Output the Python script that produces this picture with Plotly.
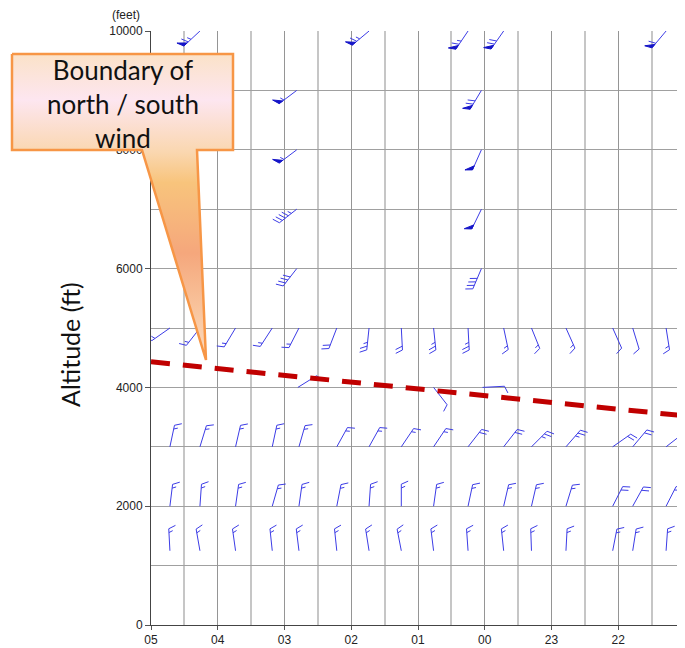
import math
import plotly.graph_objects as go

# ---------------- data ----------------
hour_labels = ["05", "04", "03", "02", "01", "00", "23", "22", "21"]

# wind profiler observation times (time runs right-to-left: 05 -> 21)
profiler_times = ["04:43", "04:16", "03:44", "03:11", "02:47", "02:13", "01:44", "01:15",
                  "00:46", "00:15", "23:43", "23:18", "22:47", "22:05", "21:47", "21:17"]

# wind direction (deg, from) and speed (kt) at each profiler level
dir_1250 = [357, 350, 352, 354, 353, 354, 351, 349, 353, 356, 354, 358, 3, 11, 9, 4]
spd_1250 = [15, 15, 15, 15, 15, 15, 15, 15, 15, 15, 15, 15, 15, 15, 15, 15]
dir_2000 = [7, 4, 8, 16, 8, 11, 4, 0, 8, 12, 13, 13, 17, 27, 29, 27]
spd_2000 = [15, 15, 15, 15, 15, 15, 15, 15, 15, 15, 15, 15, 15, 20, 20, 20]
dir_3000 = [12, 17, 13, 12, 16, 29, 29, 34, 34, 38, 38, 45, 41, 55, 40, 52]
spd_3000 = [15, 15, 15, 15, 15, 15, 15, 15, 15, 20, 20, 25, 25, 20, 20, 15]
dir_5000 = [235, 218, 211, 213, 207, 201, 186, 177, 174, 177, 168, 158, 156, 156, 163, 171]
spd_5000 = [15, 15, 15, 15, 15, 20, 25, 20, 25, 25, 15, 15, 15, 10, 10, 15]
dir_10000 = [None, 227, None, None, None, None, 230, None, None, 214, 215, None, None, None, None, 220]
spd_10000 = [None, 65, None, None, None, None, 65, None, None, 65, 70, None, None, None, None, 60]

profiler_levels = [1250, 2000, 3000, 5000, 10000]
profiler_dirs = [dir_1250, dir_2000, dir_3000, dir_5000, dir_10000]
profiler_spds = [spd_1250, spd_2000, spd_3000, spd_5000, spd_10000]

# other (sounding / aircraft) observations
other_times = ["02:49", "02:49", "02:49", "02:49", "02:48", "00:03", "00:03", "00:03", "00:03", "00:02", "00:46"]
other_alts = [9000, 8000, 7000, 6000, 4000, 9000, 8000, 7000, 6000, 4000, 4000]
other_dirs = [233, 233, 232, 218, 58, 211, 204, 206, 203, 87, 142]
other_spds = [55, 55, 45, 40, 10, 70, 50, 50, 40, 10, 10]

# boundary of north / south wind
boundary_times = ["05:00", "21:00"]
boundary_alts = [4430, 3520]

y_tick_vals = [0, 2000, 4000, 6000, 8000, 10000]

# ---------------- layout constants ----------------
# the page body has an 8px margin; the figure is sized so the plot ends at the window edge
OFF = 8
FW, FH = 685 - OFF, 648 - OFF
PLOT_L, PLOT_R, PLOT_T, PLOT_B = 151, 685, 31, 625     # window pixels
X_DOMAIN = [(PLOT_L - OFF) / FW, (PLOT_R - OFF) / FW]
Y_DOMAIN = [1 - (PLOT_B - OFF) / FH, 1 - (PLOT_T - OFF) / FH]
X_RANGE = [0, len(hour_labels) - 1]
Y_RANGE = [0, 10000]
PX_PER_HR = (PLOT_R - PLOT_L) / (X_RANGE[1] - X_RANGE[0])
PX_PER_FT = (PLOT_B - PLOT_T) / (Y_RANGE[1] - Y_RANGE[0])

STAFF = 22.0
FULL = 7.5
HALF = 4.2
SPACING = 3.8
PEN_W = 4.5
PEN_L = 7.5
BARB_ROT = 66.0


def time_to_x(t):
    h, m = map(int, t.split(":"))
    return (5 - (h + m / 60.0)) % 24


line_x, line_y, pen_x, pen_y = [], [], [], []


def add_barb(x0, y0, d, spd):
    r = math.radians(d)
    ux, uy = math.sin(r), math.cos(r)
    a = math.radians(-BARB_ROT)
    bx = ux * math.cos(a) - uy * math.sin(a)
    by = ux * math.sin(a) + uy * math.cos(a)

    def P(px, py):
        return x0 + px / PX_PER_HR, y0 + py / PX_PER_FT

    tip = (STAFF * ux, STAFF * uy)
    for pt in [(0, 0), tip]:
        X, Y = P(*pt)
        line_x.append(X); line_y.append(Y)
    line_x.append(None); line_y.append(None)

    n50 = int(spd // 50)
    rem = spd - 50 * n50
    n10 = int(rem // 10)
    n5 = 1 if (rem - 10 * n10) >= 5 else 0
    pos = 0.0
    for _ in range(n50):
        p0 = (tip[0] - pos * ux, tip[1] - pos * uy)
        p2 = (tip[0] - (pos + PEN_W) * ux, tip[1] - (pos + PEN_W) * uy)
        ap = (p0[0] + PEN_L * bx, p0[1] + PEN_L * by)
        for pt in [p0, ap, p2, p0]:
            X, Y = P(*pt)
            pen_x.append(X); pen_y.append(Y)
        pen_x.append(None); pen_y.append(None)
        pos += PEN_W + 1.5
    for _ in range(n10):
        s = (tip[0] - pos * ux, tip[1] - pos * uy)
        e = (s[0] + FULL * bx, s[1] + FULL * by)
        for pt in [s, e]:
            X, Y = P(*pt)
            line_x.append(X); line_y.append(Y)
        line_x.append(None); line_y.append(None)
        pos += SPACING
    if n5:
        if n50 == 0 and n10 == 0:
            pos = SPACING
        s = (tip[0] - pos * ux, tip[1] - pos * uy)
        e = (s[0] + HALF * bx, s[1] + HALF * by)
        for pt in [s, e]:
            X, Y = P(*pt)
            line_x.append(X); line_y.append(Y)
        line_x.append(None); line_y.append(None)


for lev, dirs, spds in zip(profiler_levels, profiler_dirs, profiler_spds):
    for t, d, s in zip(profiler_times, dirs, spds):
        if d is None:
            continue
        add_barb(time_to_x(t), lev, d, s)

for t, a, d, s in zip(other_times, other_alts, other_dirs, other_spds):
    add_barb(time_to_x(t), a, d, s)

fig = go.Figure()
fig.add_trace(go.Scatter(x=line_x, y=line_y, mode="lines",
                         line=dict(color="#3c3ce6", width=1),
                         hoverinfo="skip", showlegend=False))
fig.add_trace(go.Scatter(x=pen_x, y=pen_y, mode="lines", fill="toself",
                         fillcolor="#1414c8", line=dict(color="#1414c8", width=1),
                         hoverinfo="skip", showlegend=False))
fig.add_trace(go.Scatter(x=[time_to_x(t) for t in boundary_times], y=boundary_alts,
                         mode="lines", line=dict(color="#c00000", width=5, dash="19px,13px"),
                         hoverinfo="skip", showlegend=False))

# ---------------- callout (on a full-figure overlay in window pixels) ----------------
cx = [12, 233, 233, 197, 206, 142, 12, 12]
cy = [54, 54, 150, 150, 360, 150, 150, 54]
fig.add_trace(go.Scatter(
    x=cx, y=cy, xaxis="x2", yaxis="y2", mode="lines", fill="toself",
    fillgradient=dict(type="vertical", start=54, stop=360,
                      colorscale=[[0.0, "#fbe2c8"], [0.15, "#fde6f0"], [0.32, "#fad7b0"],
                                  [0.42, "#f8c47c"], [0.65, "#f5a77c"], [0.82, "#f8c29a"],
                                  [1.0, "#fcdcc0"]]),
    line=dict(color="#f79646", width=2.5),
    hoverinfo="skip", showlegend=False))

fig.update_layout(
    width=FW, height=FH, autosize=False,
    margin=dict(l=0, r=0, t=0, b=0, pad=0, autoexpand=False),
    paper_bgcolor="white", plot_bgcolor="rgba(0,0,0,0)",
    font=dict(family="Liberation Sans, Arial, sans-serif", size=12, color="#222"),
    xaxis=dict(domain=X_DOMAIN, range=X_RANGE, tickmode="array", automargin=False,
               tickvals=list(range(len(hour_labels))), ticktext=hour_labels,
               ticklabeloverflow="allow",
               showgrid=True, gridcolor="#959595", gridwidth=1,
               minor=dict(tickmode="array",
                          tickvals=[i + 0.5 for i in range(len(hour_labels) - 1)],
                          showgrid=True, gridcolor="#c6c6c6", gridwidth=1.5),
               ticks="outside", ticklen=4, tickcolor="#555",
               showline=True, linecolor="#444", linewidth=1, zeroline=False,
               tickfont=dict(size=12, color="#222"), fixedrange=True),
    yaxis=dict(domain=Y_DOMAIN, range=Y_RANGE, tickmode="array", automargin=False,
               tickvals=y_tick_vals, ticktext=[str(v) for v in y_tick_vals],
               ticklabeloverflow="allow",
               showgrid=True, gridcolor="#a0a0a0", gridwidth=1,
               minor=dict(tickmode="array", tickvals=[1000, 3000, 5000, 7000, 9000],
                          showgrid=True, gridcolor="#a0a0a0", gridwidth=1),
               ticks="outside", ticklen=5, tickcolor="#555",
               showline=True, linecolor="#444", linewidth=1, zeroline=False,
               tickfont=dict(size=12, color="#222"), fixedrange=True),
    xaxis2=dict(domain=[0, 1], range=[OFF, OFF + FW], visible=False, anchor="y2",
                fixedrange=True, automargin=False),
    yaxis2=dict(domain=[0, 1], range=[OFF + FH, OFF], visible=False, anchor="x2",
                fixedrange=True, automargin=False),
    annotations=[
        dict(text="Boundary of<br>north / south<br>wind", xref="x2", yref="y2",
             x=123, y=104, showarrow=False, xanchor="center", yanchor="middle",
             font=dict(family="Lato, Carlito, sans-serif", size=26, color="#111")),
        dict(text="Altitude (ft)", xref="x2", yref="y2",
             x=70, y=345, textangle=-90, showarrow=False,
             xanchor="center", yanchor="middle",
             font=dict(family="Lato, Carlito, sans-serif", size=25, color="#111")),
        dict(text="(feet)", xref="x2", yref="y2",
             x=126, y=15, showarrow=False,
             xanchor="center", yanchor="middle",
             font=dict(size=12, color="#222")),
    ],
)

fig.write_html("out.html", config={"displayModeBar": False})
